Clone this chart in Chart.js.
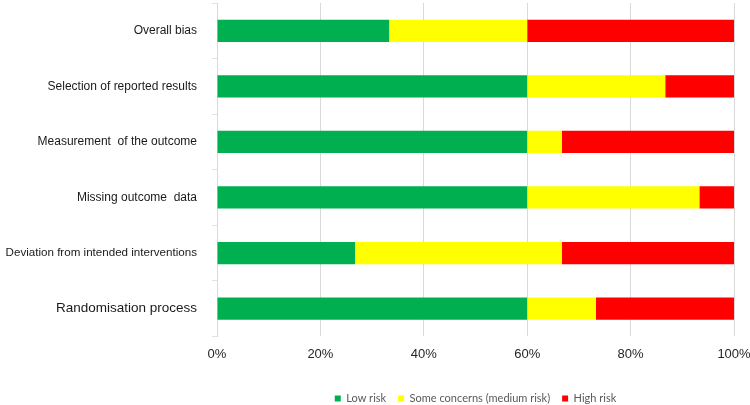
<!DOCTYPE html>
<html>
<head>
<meta charset="utf-8">
<script src="https://cdn.jsdelivr.net/npm/chart.js@4/dist/chart.umd.min.js"></script>
<style>
html,body{margin:0;padding:0;background:#fff;}
#wrap{width:750px;height:405px;}
</style>
</head>
<body>
<div id="wrap"><canvas id="c" width="750" height="405"></canvas></div>
<script>
const categories = [
  "Overall bias",
  "Selection of reported results",
  "Measurement  of the outcome",
  "Missing outcome  data",
  "Deviation from intended interventions",
  "Randomisation process"
];
const lowRisk = [33.3, 60, 60, 60, 26.7, 60];
const someConcerns = [26.7, 26.7, 6.7, 33.3, 40, 13.3];
const highRisk = [40, 13.3, 33.3, 6.7, 33.3, 26.7];
const xTicks = [0, 20, 40, 60, 80, 100];

new Chart(document.getElementById('c'), {
  type: 'bar',
  data: {
    labels: categories,
    datasets: [
      {label: 'Low risk', data: lowRisk, backgroundColor: '#00B050'},
      {label: 'Some concerns (medium risk)', data: someConcerns, backgroundColor: '#FFFF00'},
      {label: 'High risk', data: highRisk, backgroundColor: '#FF0000'}
    ]
  },
  options: {
    indexAxis: 'y',
    responsive: false,
    animation: false,
    maintainAspectRatio: false,
    layout: {padding: {top: 3, right: 16, left: 0, bottom: -9}},
    datasets: {bar: {barPercentage: 0.4, categoryPercentage: 1.0, borderWidth: 0}},
    plugins: {
      tooltip: {enabled: false},
      legend: {
        position: 'bottom',
        fullSize: false,
        labels: {
          boxWidth: 6, boxHeight: 6, padding: 12,
          color: '#595959',
          font: {family: 'Lato', size: 11}
        }
      }
    },
    scales: {
      x: {
        stacked: true,
        min: 0, max: 100,
        afterBuildTicks: (s) => { s.ticks = xTicks.map(v => ({value: v})); },
        afterFit: (s) => { s.paddingLeft = 0; s.paddingRight = 0; s.height += 9; },
        ticks: {
          callback: (v) => v + '%',
          color: '#262626',
          padding: 10,
          font: {family: 'Liberation Sans', size: 13}
        },
        grid: {color: '#d9d9d9', drawTicks: false, lineWidth: 1},
        border: {display: false}
      },
      y: {
        stacked: true,
        afterFit: (s) => { s.width = 217; s.paddingTop = 0; s.paddingBottom = 0; },
        ticks: {
          color: '#1a1a1a',
          padding: 15,
          font: (ctx) => ({family: 'Liberation Sans', size: ctx.index === 5 ? 13.5 : (ctx.index === 4 ? 11.6 : 12)})
        },
        grid: {offset: true, drawOnChartArea: false, tickLength: 5, color: '#e3e3e3'},
        border: {display: true, color: '#d9d9d9'}
      }
    }
  }
});
</script>
</body>
</html>
